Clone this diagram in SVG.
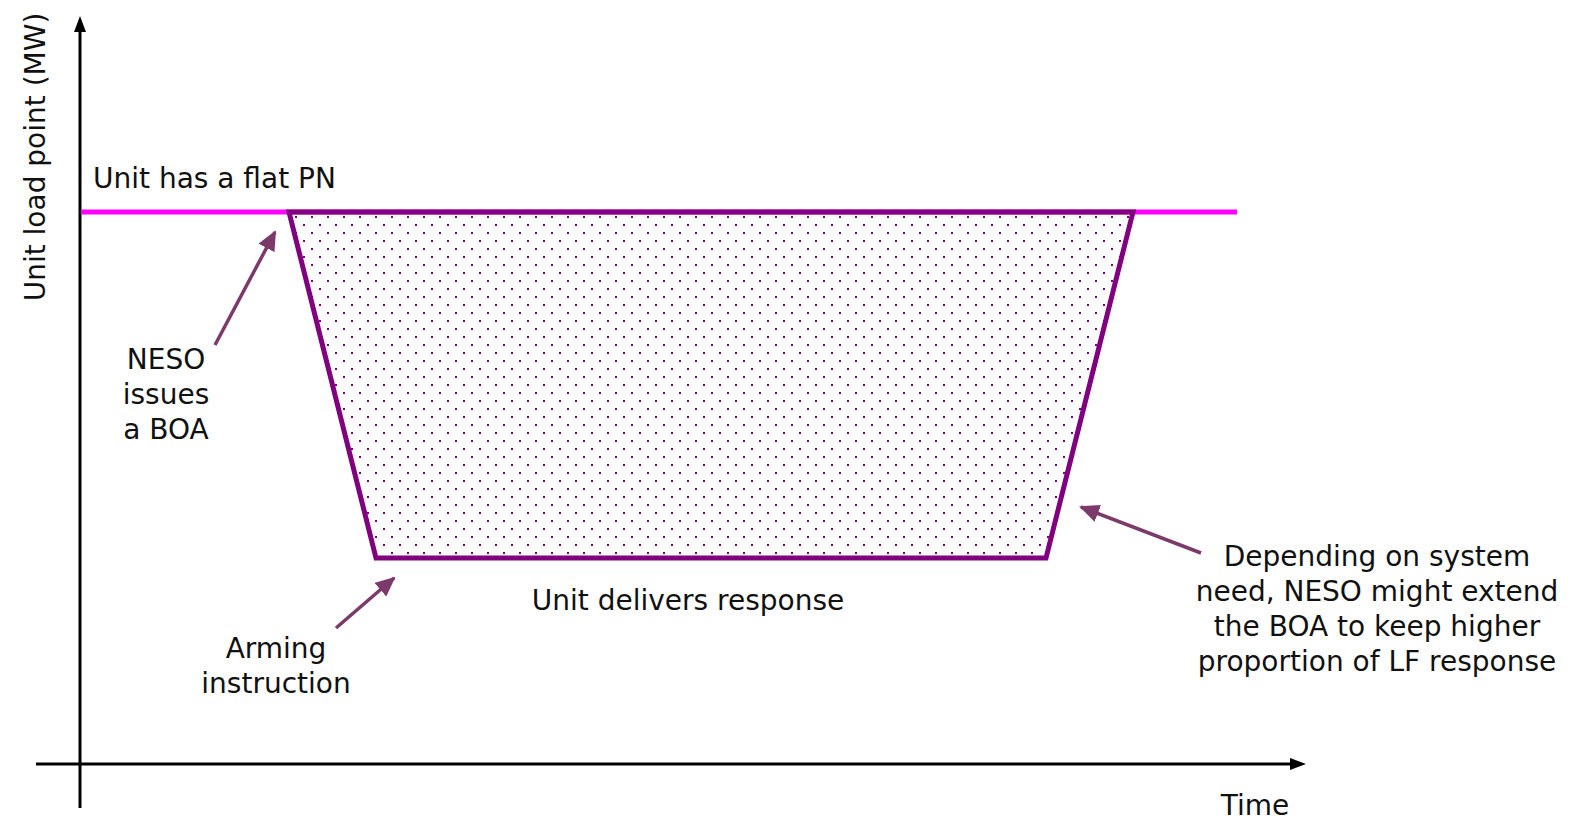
<svg xmlns="http://www.w3.org/2000/svg" width="1571" height="824" viewBox="0 0 1571 824">
<style>
.t{font-family:"DejaVu Sans","Open Sans",sans-serif;font-size:28px;fill:#111}
.c{text-anchor:middle}
.ax{stroke:#000;stroke-width:3;fill:none}
.ann{stroke:#7b3a6a;stroke-width:3.5;fill:none}
</style>
<defs>
<pattern id="dots" width="16" height="16" patternUnits="userSpaceOnUse" x="7" y="8">
<rect x="0" y="0" width="2" height="2" fill="#800080"/>
<rect x="8" y="8" width="2" height="2" fill="#800080"/>
</pattern>
<marker id="am" markerWidth="20" markerHeight="18" refX="18" refY="9" orient="auto" markerUnits="userSpaceOnUse" viewBox="0 0 20 18">
<path d="M0,0 L20,9 L0,18 Z" fill="#7b3a6a"/>
</marker>
</defs>
<g id="axes">
<line class="ax" x1="80" y1="808" x2="80" y2="22"/>
<path d="M80,16 L74,32 L86,32 Z" fill="#000"/>
<line class="ax" x1="36" y1="764" x2="1296" y2="764"/>
<path d="M1306,764 L1290,758 L1290,770 Z" fill="#000"/>
</g>
<g id="pn-line">
<line x1="81" y1="212" x2="1237" y2="212" stroke="#ff00ff" stroke-width="5"/>
</g>
<g id="response">
<polygon points="289,212 1133,212 1046,558 376,558" fill="url(#dots)" stroke="#800080" stroke-width="5" stroke-linejoin="miter"/>
</g>
<g id="connectors">
<line class="ann" x1="215" y1="345" x2="275" y2="232" marker-end="url(#am)"/>
<line class="ann" x1="336" y1="628" x2="394" y2="578" marker-end="url(#am)"/>
<line class="ann" x1="1201" y1="553" x2="1081" y2="507" marker-end="url(#am)"/>
</g>
<g id="labels">
<text class="t" transform="translate(45,157) rotate(-90)" text-anchor="middle">Unit load point (MW)</text>
<text class="t" x="93" y="188">Unit has a flat PN</text>
<text class="t c" x="166" y="369">NESO</text>
<text class="t c" x="166" y="404">issues</text>
<text class="t c" x="166" y="439">a BOA</text>
<text class="t c" x="688" y="610">Unit delivers response</text>
<text class="t c" x="276" y="658">Arming</text>
<text class="t c" x="276" y="693">instruction</text>
<text class="t c" x="1377" y="566">Depending on system</text>
<text class="t c" x="1377" y="601">need, NESO might extend</text>
<text class="t c" x="1377" y="636">the BOA to keep higher</text>
<text class="t c" x="1377" y="671">proportion of LF response</text>
<text class="t c" x="1255" y="815">Time</text>
</g>
</svg>
